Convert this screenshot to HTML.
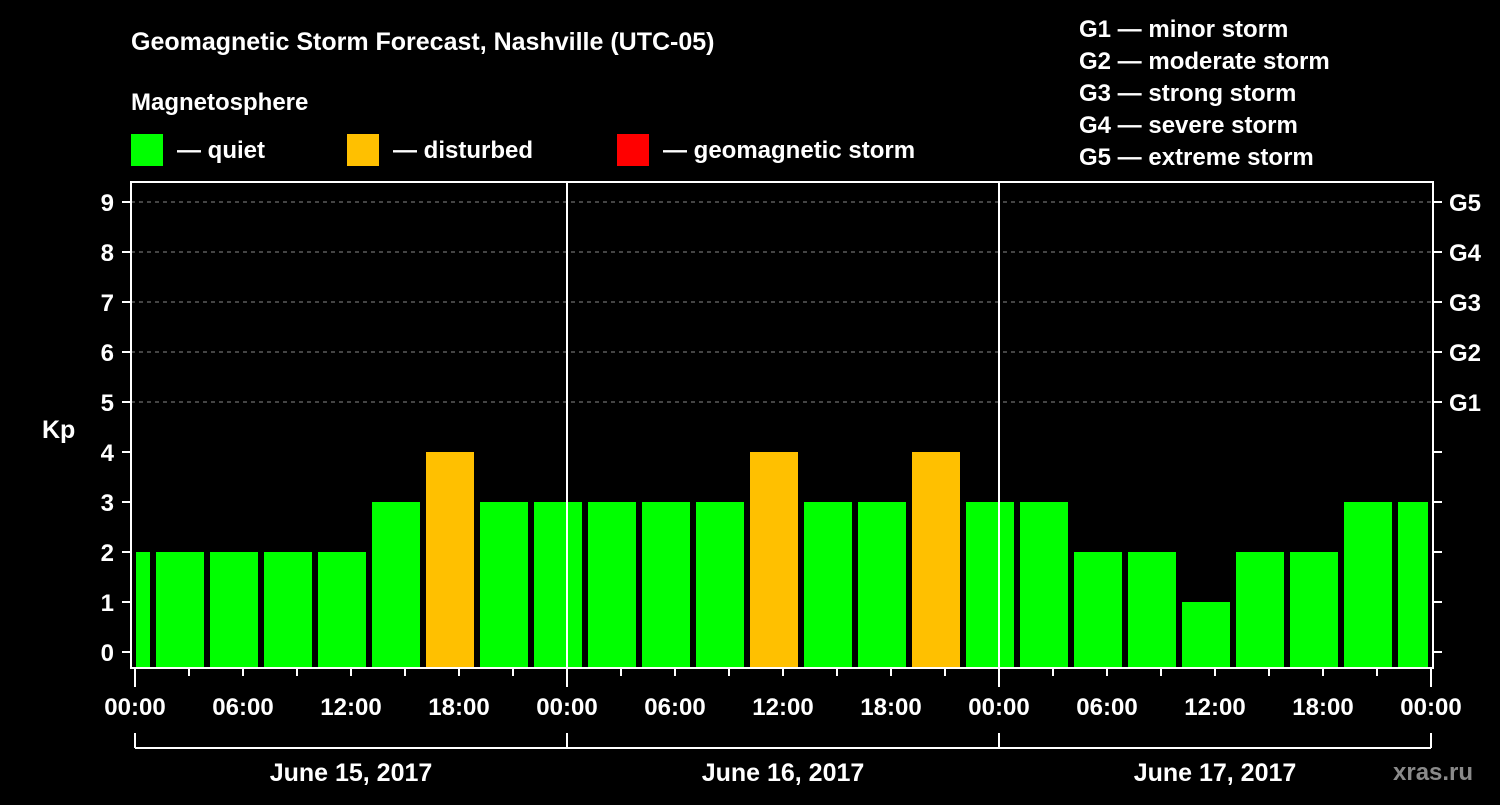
<!DOCTYPE html>
<html><head><meta charset="utf-8"><style>
html,body{margin:0;padding:0;background:#000;}
svg text{font-family:"Liberation Sans",Arial,sans-serif;font-weight:bold;fill:#fff;}
</style></head><body>
<svg id="chart" width="1500" height="800" xmlns="http://www.w3.org/2000/svg" font-family="Liberation Sans, Arial, sans-serif" font-weight="bold">
<rect width="1500" height="800" fill="#000"/>
<text x="131" y="50" font-size="25">Geomagnetic Storm Forecast, Nashville (UTC-05)</text>
<text x="131" y="110" font-size="24">Magnetosphere</text>
<g>
<rect x="131" y="134" width="32" height="32" fill="#00ff00"/>
<text x="177" y="158" font-size="24">— quiet</text>
<rect x="347" y="134" width="32" height="32" fill="#ffc000"/>
<text x="393" y="158" font-size="24">— disturbed</text>
<rect x="617" y="134" width="32" height="32" fill="#ff0000"/>
<text x="663" y="158" font-size="24">— geomagnetic storm</text>
</g>
<g font-size="24">
<text x="1079" y="37">G1 — minor storm</text>
<text x="1079" y="69">G2 — moderate storm</text>
<text x="1079" y="101">G3 — strong storm</text>
<text x="1079" y="133">G4 — severe storm</text>
<text x="1079" y="165">G5 — extreme storm</text>
</g>
<text x="42" y="438" font-size="25">Kp</text>
<text x="1393" y="780" font-size="24" style="fill:#8a8a8a">xras.ru</text>
<defs><clipPath id="pc"><rect x="136" y="183" width="1292" height="485"/></clipPath></defs>
<g id="grid"></g>
<g id="bars" clip-path="url(#pc)"></g>
<g id="axes" font-family="Liberation Sans, Arial, sans-serif" font-weight="bold"></g>
</svg>
<script>
const kpValues = [2,2,2,2,2,3,4,3,3,3,3,3,4,3,3,4,3,3,2,2,1,2,2,3,3];
const yTicks = [0,1,2,3,4,5,6,7,8,9];
const gLabels = ["G1","G2","G3","G4","G5"];
const gLevels = [5,6,7,8,9];
const hourLabels = ["00:00","06:00","12:00","18:00","00:00","06:00","12:00","18:00","00:00","06:00","12:00","18:00","00:00"];
const dayLabels = ["June 15, 2017","June 16, 2017","June 17, 2017"];

const NS="http://www.w3.org/2000/svg";
const x0=135, pxPerHour=18, plotLeft=131, plotRight=1433, plotTop=182, plotBottom=668;
const xH=h=>x0+h*pxPerHour;
const yK=v=>652-v*50;
function mk(tag,attrs,parent){const e=document.createElementNS(NS,tag);for(const k in attrs)e.setAttribute(k,attrs[k]);parent.appendChild(e);return e;}
const grid=document.getElementById('grid'),bars=document.getElementById('bars'),axes=document.getElementById('axes');

gLevels.forEach((lv,i)=>{
  const l=mk('line',{x1:plotLeft,x2:plotRight,y1:yK(lv),y2:yK(lv),stroke:'#888','stroke-dasharray':'4,4','stroke-width':1},grid);
  
  
});

kpValues.forEach((v,i)=>{
  const startH=i*3-2.1667;
  const xs=xH(startH)+6, xe=xH(startH+3);
  const r=mk('rect',{x:xs,y:yK(v),width:xe-xs,height:plotBottom-yK(v),fill:v>=5?'#ff0000':(v>=4?'#ffc000':'#00ff00')},bars);
  
  
});

[1,2].forEach(d=>{
  const l=mk('line',{x1:xH(d*24),x2:xH(d*24),y1:plotTop,y2:plotBottom,stroke:'#fff','stroke-width':2},axes);
  
  
});
const frame=mk('rect',{x:plotLeft,y:plotTop,width:plotRight-plotLeft,height:plotBottom-plotTop,fill:'none',stroke:'#fff','stroke-width':2},axes);



yTicks.forEach(v=>{
  mk('line',{x1:122,x2:plotLeft,y1:yK(v),y2:yK(v),stroke:'#fff','stroke-width':2},axes);
  mk('line',{x1:plotRight,x2:1442,y1:yK(v),y2:yK(v),stroke:'#fff','stroke-width':2},axes);
  const t=mk('text',{x:114,y:yK(v)+9,'font-size':24,'text-anchor':'end'},axes);
  t.textContent=v;
  
  
});
gLabels.forEach((g,i)=>{
  const t=mk('text',{x:1449,y:yK(gLevels[i])+9,'font-size':24},axes);
  t.textContent=g;
  
  
});

for(let h=0;h<=72;h+=3){
  const major=h%24===0;
  mk('line',{x1:xH(h),x2:xH(h),y1:plotBottom,y2:major?687:676,stroke:'#fff','stroke-width':2},axes);
}
hourLabels.forEach((s,i)=>{
  const t=mk('text',{x:xH(i*6),y:715,'font-size':24,'text-anchor':'middle'},axes);
  t.textContent=s;
  
  
});
mk('line',{x1:xH(0),x2:xH(72),y1:748,y2:748,stroke:'#fff','stroke-width':2},axes);
for(let d=0;d<=3;d++) mk('line',{x1:xH(d*24),x2:xH(d*24),y1:733,y2:748,stroke:'#fff','stroke-width':2},axes);
dayLabels.forEach((s,i)=>{
  const t=mk('text',{x:xH(i*24+12),y:781,'font-size':25,'text-anchor':'middle'},axes);
  t.textContent=s;
  
  
});
</script>
</body></html>
